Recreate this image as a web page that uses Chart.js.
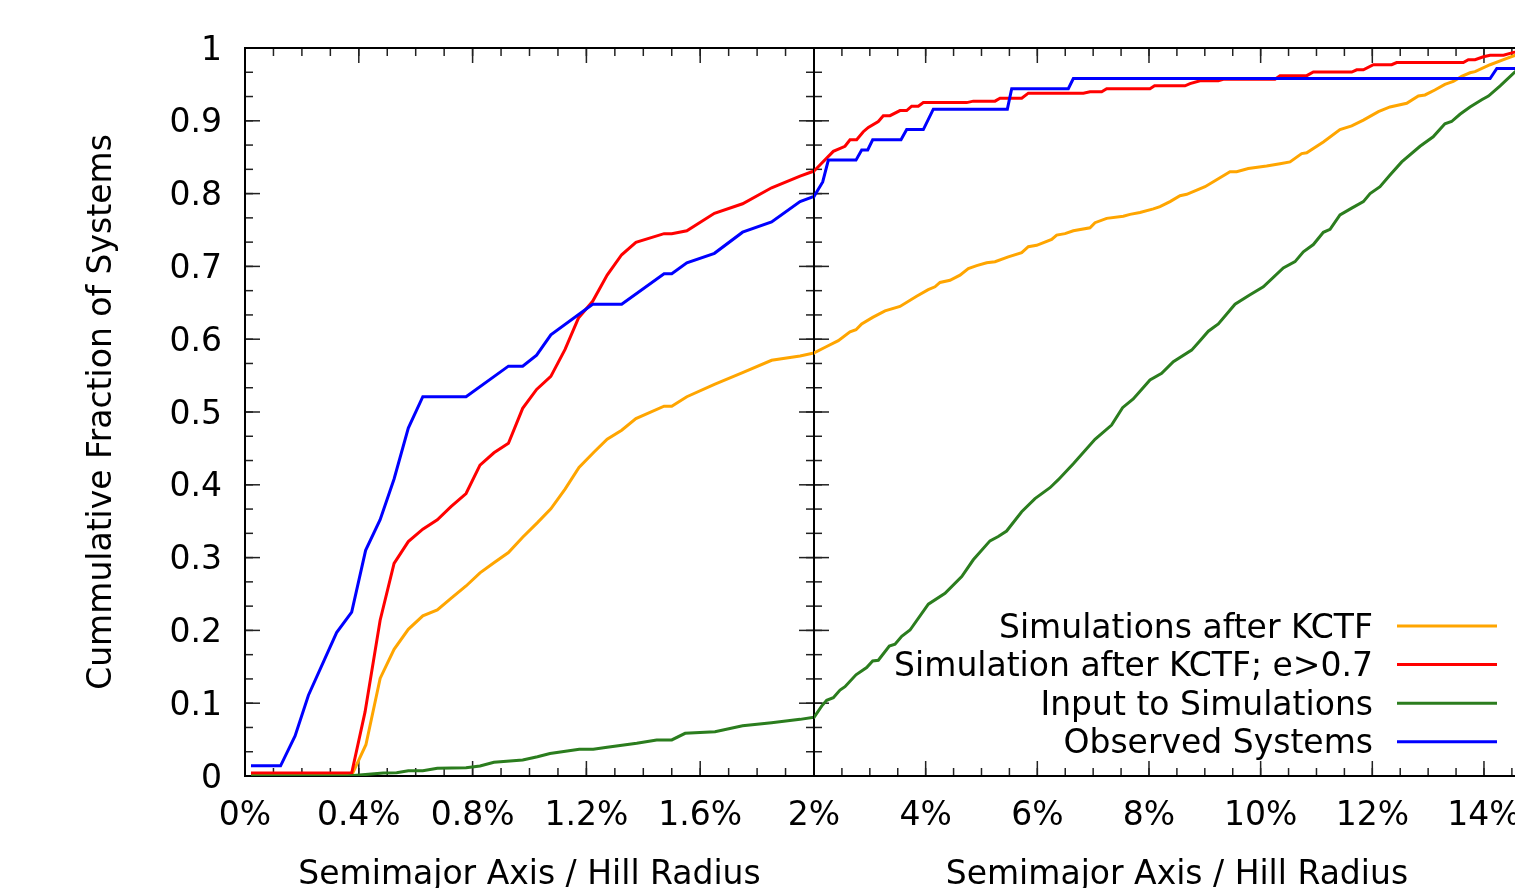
<!DOCTYPE html>
<html><head><meta charset="utf-8">
<script src="https://cdn.jsdelivr.net/npm/chart.js@4.4.1/dist/chart.umd.min.js"></script>
<style>
html,body{margin:0;padding:0;background:#fff;overflow:hidden;width:1515px;height:888px;}
#wrap{position:relative;width:1515px;height:888px;overflow:hidden;background:#fff;}
canvas{position:absolute;top:0;}
#left{left:0;}
#right{left:790px;}
</style></head><body><div id="wrap"><canvas id="left" width="870" height="888"></canvas><canvas id="right" width="790" height="888"></canvas></div>
<script>
// ---- data: [semimajor axis / Hill radius in %, cumulative fraction]
const observed = [[0.021,0.014],[0.125,0.014],[0.176,0.055],[0.223,0.111],[0.322,0.197],[0.375,0.225],[0.424,0.310],[0.475,0.352],[0.524,0.408],[0.574,0.478],[0.625,0.521],[0.777,0.521],[0.926,0.563],[0.976,0.563],[1.025,0.578],[1.075,0.606],[1.222,0.648],[1.324,0.648],[1.473,0.690],[1.50,0.690],[1.553,0.705],[1.650,0.718],[1.749,0.747],[1.851,0.761],[1.951,0.789],[2.0,0.796],[2.156,0.816],[2.257,0.846],[2.752,0.846],[2.854,0.860],[2.962,0.860],[3.051,0.874],[3.558,0.874],[3.660,0.888],[3.958,0.888],[4.137,0.916],[5.463,0.916],[5.541,0.944],[6.555,0.944],[6.645,0.958],[14.11,0.958],[14.23,0.972],[15.0,0.972]];
const simHighE = [[0.021,0.004],[0.375,0.004],[0.422,0.088],[0.475,0.214],[0.524,0.292],[0.574,0.322],[0.625,0.339],[0.676,0.352],[0.724,0.370],[0.777,0.388],[0.826,0.427],[0.875,0.444],[0.926,0.457],[0.976,0.505],[1.025,0.531],[1.075,0.549],[1.125,0.586],[1.172,0.629],[1.222,0.652],[1.273,0.688],[1.324,0.716],[1.374,0.733],[1.473,0.745],[1.50,0.745],[1.553,0.749],[1.650,0.773],[1.749,0.786],[1.851,0.808],[1.951,0.824],[2.0,0.831],[2.346,0.858],[2.555,0.865],[2.645,0.874],[2.764,0.874],[2.883,0.885],[2.973,0.891],[3.152,0.899],[3.241,0.907],[3.361,0.907],[3.540,0.914],[3.660,0.914],[3.749,0.920],[3.868,0.920],[3.958,0.925],[4.735,0.925],[4.853,0.927],[5.242,0.927],[5.332,0.931],[5.720,0.931],[5.839,0.938],[6.824,0.938],[6.944,0.940],[7.153,0.940],[7.242,0.944],[8.018,0.944],[8.10,0.948],[8.645,0.948],[8.735,0.951],[8.914,0.955],[9.242,0.955],[9.331,0.957],[10.257,0.957],[10.347,0.962],[10.825,0.962],[10.944,0.967],[11.632,0.967],[11.721,0.970],[11.84,0.970],[12.019,0.977],[12.347,0.977],[12.436,0.980],[13.63,0.980],[13.72,0.984],[13.84,0.984],[13.99,0.988],[14.11,0.990],[14.35,0.990],[14.53,0.994],[15.0,1.0]];
const simAll = [[0.021,0.001],[0.375,0.001],[0.425,0.043],[0.475,0.134],[0.524,0.174],[0.574,0.2015],[0.625,0.220],[0.676,0.228],[0.724,0.244],[0.777,0.261],[0.826,0.279],[0.875,0.293],[0.926,0.307],[0.976,0.328],[1.028,0.348],[1.075,0.367],[1.125,0.394],[1.174,0.424],[1.227,0.445],[1.273,0.4625],[1.324,0.475],[1.374,0.491],[1.473,0.508],[1.50,0.508],[1.553,0.521],[1.650,0.538],[1.749,0.554],[1.851,0.571],[1.951,0.577],[2.0,0.581],[2.227,0.590],[2.435,0.598],[2.645,0.610],[2.752,0.613],[2.854,0.621],[3.051,0.630],[3.272,0.639],[3.54,0.645],[3.838,0.659],[4.046,0.668],[4.167,0.672],[4.257,0.678],[4.436,0.681],[4.615,0.688],[4.764,0.697],[4.914,0.701],[5.093,0.705],[5.242,0.7065],[5.48,0.713],[5.72,0.719],[5.839,0.727],[5.988,0.729],[6.257,0.737],[6.347,0.743],[6.496,0.745],[6.645,0.749],[6.944,0.753],[7.033,0.760],[7.242,0.766],[7.54,0.769],[7.66,0.7715],[7.839,0.774],[8.078,0.779],[8.197,0.782],[8.377,0.789],[8.556,0.797],[8.676,0.799],[9.004,0.8095],[9.212,0.819],[9.451,0.830],[9.57,0.830],[9.779,0.8345],[10.107,0.838],[10.347,0.841],[10.526,0.8435],[10.735,0.855],[10.825,0.856],[11.123,0.871],[11.421,0.888],[11.631,0.893],[11.84,0.901],[12.109,0.9125],[12.317,0.919],[12.616,0.924],[12.825,0.934],[12.944,0.9355],[13.12,0.9423],[13.30,0.950],[13.45,0.954],[13.60,0.961],[13.75,0.966],[13.84,0.9675],[14.11,0.977],[14.35,0.984],[14.56,0.990],[15.0,1.0]];
const simInput = [[0.021,0],[0.36,0],[0.486,0.004],[0.533,0.0045],[0.574,0.0073],[0.625,0.0073],[0.676,0.0106],[0.777,0.0114],[0.826,0.0137],[0.875,0.0188],[0.976,0.022],[1.028,0.0265],[1.072,0.031],[1.175,0.0366],[1.224,0.0366],[1.273,0.0394],[1.377,0.0449],[1.447,0.0495],[1.50,0.0495],[1.547,0.0586],[1.652,0.0609],[1.749,0.069],[1.851,0.0732],[1.951,0.0778],[2.0,0.0806],[2.137,0.096],[2.227,0.104],[2.346,0.1076],[2.466,0.118],[2.555,0.1227],[2.752,0.139],[2.943,0.149],[3.051,0.158],[3.152,0.159],[3.349,0.1786],[3.451,0.181],[3.571,0.192],[3.72,0.2005],[4.048,0.236],[4.347,0.251],[4.646,0.274],[4.853,0.297],[5.152,0.323],[5.30,0.329],[5.45,0.3365],[5.72,0.363],[5.958,0.381],[6.227,0.396],[6.376,0.407],[6.645,0.429],[7.033,0.4625],[7.33,0.482],[7.527,0.506],[7.718,0.518],[8.018,0.544],[8.227,0.553],[8.436,0.569],[8.764,0.585],[8.914,0.598],[9.063,0.611],[9.242,0.621],[9.541,0.648],[9.81,0.661],[10.048,0.672],[10.406,0.698],[10.616,0.7065],[10.765,0.720],[10.944,0.730],[11.123,0.7468],[11.243,0.751],[11.421,0.7706],[11.631,0.780],[11.84,0.789],[11.96,0.800],[12.138,0.8095],[12.317,0.8255],[12.527,0.8435],[12.855,0.865],[13.09,0.878],[13.30,0.896],[13.42,0.899],[13.57,0.909],[13.75,0.919],[13.96,0.929],[14.08,0.934],[14.29,0.948],[14.56,0.9675],[15.0,0.99]];

const seriesLabels = ["Simulations after KCTF","Simulation after KCTF; e>0.7","Input to Simulations","Observed Systems"];
const seriesColors = ["#FFA500","#FF0000","#2B7D1E","#0000FF"];
const seriesData = [simAll, simHighE, simInput, observed];

const leftXTicks = [0,0.4,0.8,1.2,1.6,2];
const leftXLabels = ["0%","0.4%","0.8%","1.2%","1.6%","2%"];
const rightXTicks = [4,6,8,10,12,14];
const rightXLabels = ["4%","6%","8%","10%","12%","14%"];
const yTicks = [0,0.1,0.2,0.3,0.4,0.5,0.6,0.7,0.8,0.9,1];
const yLabels = ["0","0.1","0.2","0.3","0.4","0.5","0.6","0.7","0.8","0.9","1"];
const xTitle = "Semimajor Axis / Hill Radius";
const yTitle = "Cummulative Fraction of Systems";

const FONT = "'DejaVu Sans', 'Liberation Sans', sans-serif";
const FS = 33;

function range(a, b, step){ const out=[]; const n=Math.round((b-a)/step); for(let i=0;i<=n;i++) out.push(a+i*step); return out; }

const framePlugin = {
  id: 'frame',
  beforeDatasetsDraw(chart){
    const cfg = chart.options.plugins.frame;
    const {ctx, chartArea:a} = chart;
    const x = chart.scales.x, y = chart.scales.y;
    ctx.save();
    ctx.strokeStyle = '#222'; ctx.lineWidth = 1.5;
    const seg=(x1,y1,x2,y2)=>{ctx.beginPath();ctx.moveTo(x1,y1);ctx.lineTo(x2,y2);ctx.stroke();};
    cfg.xMinor.forEach(v=>{const p=x.getPixelForValue(v); seg(p,a.bottom,p,a.bottom-8); seg(p,a.top,p,a.top+8);});
    cfg.xMajor.forEach(v=>{const p=x.getPixelForValue(v); seg(p,a.bottom,p,a.bottom-15); seg(p,a.top,p,a.top+15);});
    cfg.yMinor.forEach(v=>{const p=y.getPixelForValue(v); seg(a.left,p,a.left+8,p); seg(a.right,p,a.right-8,p);});
    cfg.yMajor.forEach(v=>{const p=y.getPixelForValue(v); seg(a.left,p,a.left+15,p); seg(a.right,p,a.right-15,p);});
    ctx.strokeStyle = '#000'; ctx.lineWidth = 2;
    ctx.strokeRect(a.left, a.top, a.right-a.left, a.bottom-a.top);
    ctx.restore();
  }
};

const keyPlugin = {
  id: 'key',
  afterDraw(chart){
    const cfg = chart.options.plugins.key;
    if(!cfg || !cfg.show) return;
    const ctx = chart.ctx;
    ctx.save();
    ctx.font = FS + "px " + FONT;
    ctx.textAlign = 'right'; ctx.textBaseline = 'middle';
    seriesLabels.forEach((lab,i)=>{
      const yy = cfg.top + i*cfg.step;
      ctx.fillStyle = '#000';
      ctx.fillText(lab, cfg.textRight, yy + 3);
      ctx.strokeStyle = seriesColors[i]; ctx.lineWidth = 3;
      ctx.beginPath(); ctx.moveTo(cfg.lineStart, yy); ctx.lineTo(cfg.lineEnd, yy); ctx.stroke();
    });
    ctx.restore();
  }
};

function datasets(){
  // draw order: dataset 0 is painted last (on top) -> observed on top
  const order = [3,2,1,0];
  return order.map(i=>({
    label: seriesLabels[i],
    data: seriesData[i].map(p=>({x:p[0], y:p[1]})),
    borderColor: seriesColors[i],
    borderWidth: 3,
    pointRadius: 0,
    tension: 0,
    fill: false,
    clip: 0
  }));
}

const commonY = {
  type:'linear', min:0, max:1,
  afterBuildTicks: s=>{ s.ticks = yTicks.map(v=>({value:v})); },
  grid:{display:false, drawTicks:false}, border:{display:false}
};

new Chart(document.getElementById('left'), {
  type:'line',
  data:{datasets: datasets()},
  options:{
    responsive:false, animation:false, devicePixelRatio:1,
    layout:{padding:{top:48, right:56, left:0, bottom:0}},
    plugins:{legend:{display:false}, tooltip:{enabled:false},
      frame:{xMajor:leftXTicks, xMinor:range(0,2,0.1), yMajor:yTicks, yMinor:range(0,1,1/30)},
      key:{show:false}},
    scales:{
      x:{type:'linear', min:0, max:2, position:'bottom',
        afterBuildTicks: s=>{ s.ticks = leftXTicks.map(v=>({value:v})); },
        afterFit: s=>{ s.height = 112; },
        grid:{display:false, drawTicks:false}, border:{display:false},
        ticks:{padding:21, color:'#000', font:{family:FONT, size:FS}, maxRotation:0, autoSkip:false,
          callback:(v,i)=>leftXLabels[i]},
        title:{display:true, text:xTitle, color:'#000', font:{family:FONT, size:FS, lineHeight:1}, padding:{top:0,bottom:-4}}
      },
      y:Object.assign({}, commonY, {
        position:'left',
        afterFit: s=>{ s.width = 245; },
        ticks:{padding:23, labelOffset:3, color:'#000', font:{family:FONT, size:FS}, autoSkip:false,
          callback:(v,i)=>yLabels[i]},
        title:{display:true, text:yTitle, color:'#000', font:{family:FONT, size:FS, lineHeight:1}, padding:{top:86,bottom:0}}
      })
    }
  },
  plugins:[framePlugin, keyPlugin]
});

new Chart(document.getElementById('right'), {
  type:'line',
  data:{datasets: datasets()},
  options:{
    responsive:false, animation:false, devicePixelRatio:1,
    layout:{padding:{top:48, right:40.2, left:24, bottom:0}},
    plugins:{legend:{display:false}, tooltip:{enabled:false},
      frame:{xMajor:range(2,14,2), xMinor:range(2,15,0.5), yMajor:yTicks, yMinor:range(0,1,1/30)},
      key:{show:true, top:626, step:38.6, textRight:583, lineStart:607, lineEnd:707}},
    scales:{
      x:{type:'linear', min:2, max:15, position:'bottom',
        afterBuildTicks: s=>{ s.ticks = rightXTicks.map(v=>({value:v})); },
        afterFit: s=>{ s.height = 112; },
        grid:{display:false, drawTicks:false}, border:{display:false},
        ticks:{padding:21, color:'#000', font:{family:FONT, size:FS}, maxRotation:0, autoSkip:false,
          callback:(v,i)=>rightXLabels[i]},
        title:{display:true, text:xTitle, color:'#000', font:{family:FONT, size:FS, lineHeight:1}, padding:{top:0,bottom:-4}}
      },
      y:Object.assign({}, commonY, {display:false})
    }
  },
  plugins:[framePlugin, keyPlugin]
});
</script>
</body></html>
